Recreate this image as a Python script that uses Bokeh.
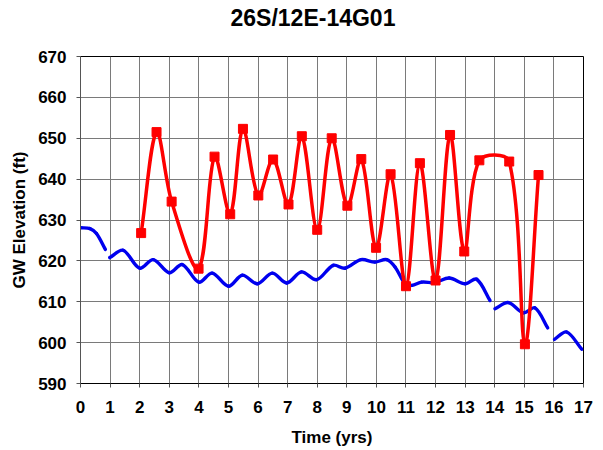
import math
from bokeh.plotting import figure
from bokeh.embed import file_html
from bokeh.resources import INLINE
from bokeh.models import FixedTicker, Range1d, Title

# ---- data ----
red_x = [2.05, 2.57, 3.08, 3.99, 4.53, 5.06, 5.49, 6.01, 6.51, 7.03, 7.48, 8.0, 8.49,
         9.02, 9.49, 9.99, 10.48, 11.0, 11.47, 12.0, 12.49, 12.97, 13.48, 14.49, 15.02, 15.48]
red_y = [626.8, 651.5, 634.5, 618.1, 645.5, 631.4, 652.3, 636.0, 644.8, 633.8, 650.5, 627.6, 650.0,
         633.5, 644.9, 623.2, 641.2, 613.8, 643.9, 615.2, 650.8, 622.3, 644.6, 644.3, 599.6, 641.0]

blue_x1 = [0.01, 0.32, 0.54, 0.84]
blue_y1 = [628.1, 627.9, 626.7, 622.8]
blue_x2 = [0.99, 1.44, 2.0, 2.46, 3.0, 3.44, 4.0, 4.45, 5.0, 5.47, 5.98, 6.48, 6.97, 7.47, 7.98,
           8.54, 8.94, 9.48, 9.95, 10.35, 10.63, 10.97, 11.2, 11.53, 11.98, 12.46, 13.0, 13.39, 13.84]
blue_y2 = [620.8, 622.6, 618.2, 620.3, 617.1, 619.1, 614.8, 617.0, 613.8, 616.5, 614.4, 617.0, 614.6, 617.3, 615.4,
           618.9, 618.2, 620.3, 619.7, 620.3, 618.5, 614.4, 614.0, 614.8, 614.7, 615.8, 614.4, 615.5, 610.3]
blue_x3 = [14.01, 14.46, 14.97, 15.36, 15.79]
blue_y3 = [608.3, 609.8, 607.3, 608.5, 603.6]
blue_x4 = [16.02, 16.43, 16.94]
blue_y4 = [600.8, 602.6, 598.4]

x_ticks = list(range(0, 18))
y_ticks = list(range(590, 680, 10))

TITLE = "26S/12E-14G01"
FONT = "Liberation Sans"
X_MIN, X_MAX, Y_MIN, Y_MAX = 0, 17, 590, 670
FRAME_W, FRAME_H = 503, 327
SX = FRAME_W / (X_MAX - X_MIN)
SY = FRAME_H / (Y_MAX - Y_MIN)


def smooth(xs, ys):
    """Bezier control points for a smoothed (spreadsheet-style) line through the points."""
    n = len(xs)

    def dist(i, j):
        return math.hypot((xs[j] - xs[i]) * SX, (ys[j] - ys[i]) * SY)

    out_cp, in_cp = [], []
    for i in range(n):
        a = max(i - 1, 0)
        b = min(i + 1, n - 1)
        tx, ty = xs[b] - xs[a], ys[b] - ys[a]
        dp = dist(a, i)
        dn = dist(i, b)
        tot = dp + dn if dp + dn > 0 else 1.0
        fo = dn / tot / 3
        fi = dp / tot / 3
        out_cp.append((xs[i] + tx * fo, ys[i] + ty * fo))
        in_cp.append((xs[i] - tx * fi, ys[i] - ty * fi))
    d = dict(x0=[], y0=[], x1=[], y1=[], cx0=[], cy0=[], cx1=[], cy1=[])
    for i in range(n - 1):
        d["x0"].append(xs[i]); d["y0"].append(ys[i])
        d["x1"].append(xs[i + 1]); d["y1"].append(ys[i + 1])
        d["cx0"].append(out_cp[i][0]); d["cy0"].append(out_cp[i][1])
        d["cx1"].append(in_cp[i + 1][0]); d["cy1"].append(in_cp[i + 1][1])
    return d


p = figure(width=595, height=450, output_backend="svg", toolbar_location=None,
           x_range=Range1d(X_MIN, X_MAX), y_range=Range1d(Y_MIN, Y_MAX),
           min_border_left=80, min_border_right=12, min_border_top=56, min_border_bottom=67)

# spacer between frame and title, then the title itself
p.add_layout(Title(text=" ", text_font_size="1px", standoff=23), "above")
p.add_layout(Title(text=TITLE, text_font=FONT, text_font_size="23px", text_font_style="bold",
                   text_color="black", align="left", offset=150, vertical_align="bottom",
                   standoff=0), "above")

p.outline_line_color = "black"
p.outline_line_width = 1

p.xaxis.ticker = FixedTicker(ticks=x_ticks)
p.yaxis.ticker = FixedTicker(ticks=y_ticks)
p.xaxis.minor_tick_line_color = None
p.yaxis.minor_tick_line_color = None
for ax in (p.xaxis, p.yaxis):
    ax.major_label_text_font = FONT
    ax.major_label_text_font_size = "17px"
    ax.major_label_text_font_style = "bold"
    ax.major_label_text_color = "black"
    ax.axis_label_text_font = FONT
    ax.axis_label_text_font_size = "17px"
    ax.axis_label_text_font_style = "bold"
    ax.axis_label_text_color = "black"
    ax.major_tick_out = 4
    ax.major_tick_in = 0
    ax.major_tick_line_color = "#555555"
p.xaxis.axis_line_color = "black"
p.yaxis.axis_line_color = "#555555"
p.xaxis.axis_label = "Time (yrs)"
p.yaxis.axis_label = "GW Elevation (ft)"
p.xaxis.major_label_standoff = 13
p.yaxis.major_label_standoff = 10
p.xaxis.axis_label_standoff = 12
p.yaxis.axis_label_standoff = 6

p.xgrid.grid_line_color = "#7a7a7a"
p.ygrid.grid_line_color = "#7a7a7a"
p.xgrid.grid_line_width = 1
p.ygrid.grid_line_width = 1

for bx, by in ((blue_x1, blue_y1), (blue_x2, blue_y2), (blue_x3, blue_y3), (blue_x4, blue_y4)):
    p.bezier(source=smooth(bx, by), x0="x0", y0="y0", x1="x1", y1="y1",
             cx0="cx0", cy0="cy0", cx1="cx1", cy1="cy1",
             line_color="#0000ee", line_width=3.4, line_cap="round")

p.bezier(source=smooth(red_x, red_y), x0="x0", y0="y0", x1="x1", y1="y1",
         cx0="cx0", cy0="cy0", cx1="cx1", cy1="cy1",
         line_color="#ff0000", line_width=3.5, line_cap="round")
p.scatter(red_x, red_y, marker="square", size=9, fill_color="#ff0000", line_color="#ff0000")

open("out.html", "w").write(file_html(p, INLINE))
